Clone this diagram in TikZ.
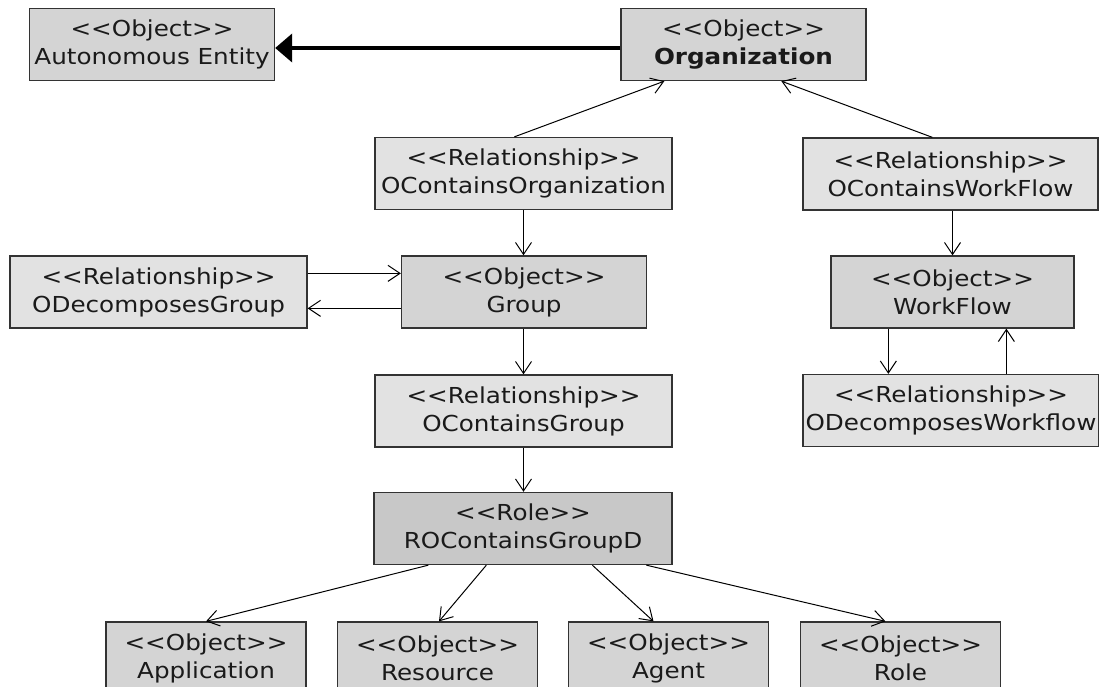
\documentclass[tikz,border=0pt]{standalone}
\usepackage{fontspec}
\setmainfont{DejaVu Sans}[FakeStretch=1.12, Ligatures=TeXOff]
\usetikzlibrary{arrows.meta}
\definecolor{objfill}{HTML}{D4D4D4}
\definecolor{relfill}{HTML}{E2E2E2}
\definecolor{rolefill}{HTML}{C8C8C8}
\definecolor{edgegray}{HTML}{333333}
\definecolor{txt}{HTML}{1A1A1A}
\tikzset{
  box/.style={draw=edgegray, line width=1.3pt, inner sep=0pt, align=center, text=txt,
    font=\fontsize{22}{28}\selectfont, minimum height=72pt},
  obj/.style={box, fill=objfill, minimum width=245pt},
  rel/.style={box, fill=relfill, minimum width=297pt},
  rolebox/.style={box, fill=rolefill, minimum width=298pt},
  leaf/.style={box, fill=objfill, minimum width=200pt},
  conn/.style={draw=black, line width=1pt, -{Straight Barb[length=12pt,width=16pt,line width=1pt]}},
  inherit/.style={draw=black, line width=4pt, -{Triangle[length=17pt,width=28pt]}}
}
\begin{document}
\begin{tikzpicture}[x=1pt,y=-1pt]
\useasboundingbox (0,0) rectangle (1099,686);
\clip (0,0) rectangle (1099,686);
% nodes
\node[obj] (ae) at (152,44.5) {<<Object>>\\Autonomous Entity};
\node[obj] (org) at (743.5,44.5) {<<Object>>\\\textbf{Organization}};
\node[rel] (oco) at (523.5,173.5) {<<Relationship>>\\OContainsOrganization};
\node[rel, minimum width=295pt] (ocw) at (950.5,174) {<<Relationship>>\\OContainsWorkFlow};
\node[rel] (odg) at (158.5,292) {<<Relationship>>\\ODecomposesGroup};
\node[obj] (grp) at (524,292) {<<Object>>\\Group};
\node[obj, minimum width=243pt] (wf) at (952.5,292) {<<Object>>\\WorkFlow};
\node[rel, minimum width=296pt] (odw) at (951,410.5) {<<Relationship>>\\ODecomposesWorkflow};
\node[rel] (ocg) at (523.5,411) {<<Relationship>>\\OContainsGroup};
\node[rolebox] (rol) at (523,528.5) {<<Role>>\\ROContainsGroupD};
\node[leaf] (app) at (206,658) {<<Object>>\\Application};
\node[leaf] (res) at (437.5,658) {<<Object>>\\Resource};
\node[leaf] (agt) at (668.5,658) {<<Object>>\\Agent};
\node[leaf] (rl) at (900.5,658) {<<Object>>\\Role};
% connectors
\draw[inherit] ([yshift=-3.5pt]org.west) -- ([yshift=-3.5pt]ae.east);
\draw[conn] ([xshift=140pt]oco.north west) -- ([xshift=44pt]org.south west);
\draw[conn] ([xshift=130pt]ocw.north west) -- ([xshift=161pt]org.south west);
\draw[conn] (oco.south) -- (grp.north -| oco.south);
\draw[conn] ([yshift=-18pt]odg.north east) -- ([yshift=-18pt]grp.north west);
\draw[conn] ([yshift=-53pt]grp.north west) -- ([yshift=-53pt]odg.north east);
\draw[conn] (ocw.south -| wf.north) -- (wf.north);
\draw[conn] ([xshift=58pt]wf.south west) -- ([xshift=58pt]wf.south west |- odw.north);
\draw[conn] ([xshift=176pt]wf.south west |- odw.north) -- ([xshift=176pt]wf.south west);
\draw[conn] (grp.south -| oco.south) -- (ocg.north -| oco.south);
\draw[conn] (ocg.south -| oco.south) -- (rol.north -| oco.south);
\draw[conn] ([xshift=55pt]rol.south west) -- (app.north);
\draw[conn] ([xshift=113pt]rol.south west) -- ([xshift=1.5pt]res.north);
\draw[conn] ([xshift=219pt]rol.south west) -- ([xshift=-15pt]agt.north);
\draw[conn] ([xshift=273pt]rol.south west) -- ([xshift=-15pt]rl.north);
\end{tikzpicture}
\end{document}
